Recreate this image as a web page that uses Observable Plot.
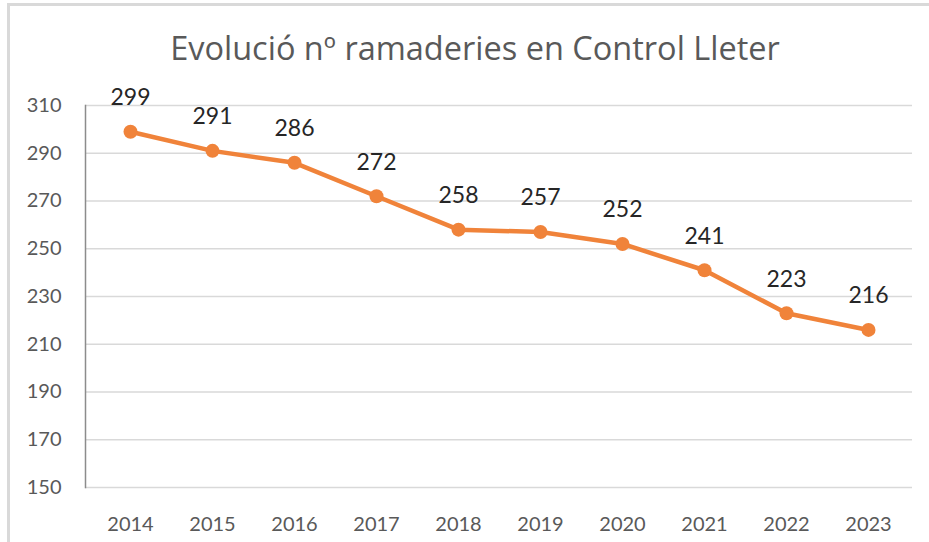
<!DOCTYPE html>
<html>
<head>
<meta charset="utf-8">
<script src="https://cdn.jsdelivr.net/npm/d3@7"></script>
<script src="https://cdn.jsdelivr.net/npm/@observablehq/plot@0.6"></script>
<style>
  html, body { margin: 0; padding: 0; background: #fff; }
  #wrap { position: relative; width: 929px; height: 542px; overflow: hidden; font-family: Lato, "Open Sans", sans-serif; }
  #border { position: absolute; left: 7px; top: 3px; width: 1000px; height: 600px; border-top: 3px solid #d9d9d9; border-left: 3px solid #d9d9d9; box-sizing: border-box; }
  #title { position: relative; height: 80px; line-height: 1; padding-top: 32px; box-sizing: border-box; text-align: center; width: 950px; font-family: "Open Sans", sans-serif; font-size: 32.5px; color: #595959; }
  #chart { position: relative; }
</style>
</head>
<body>
<div id="wrap">
  <div id="border"></div>
  <div id="title">Evolució nº ramaderies en Control Lleter</div>
  <div id="chart"></div>
</div>
<script>
const years = ["2014","2015","2016","2017","2018","2019","2020","2021","2022","2023"];
const farms = [299, 291, 286, 272, 258, 257, 252, 241, 223, 216];
const yTicks = [150, 170, 190, 210, 230, 250, 270, 290, 310];

const data = years.map((y, i) => ({year: y, value: farms[i]}));
const orange = "#F0833A";

const chart = Plot.plot({
  width: 929,
  height: 462,
  marginTop: 25,
  marginBottom: 55,
  marginLeft: 85,
  marginRight: 17,
  style: { fontFamily: "Lato, 'Open Sans', sans-serif", background: "transparent", overflow: "visible" },
  x: { type: "point", domain: years, padding: 0.5 },
  y: { domain: [150, 310] },
  marks: [
    Plot.gridY(yTicks, { stroke: "#d9d9d9", strokeOpacity: 1, strokeWidth: 1.5 }),
    Plot.frame({ anchor: "left", stroke: "#8c8c8c", strokeWidth: 1.5 }),
    Plot.axisY(yTicks, { tickSize: 0, tickPadding: 24, fontSize: 20, fill: "#595959", label: null }),
    Plot.axisX({ tickSize: 0, tickPadding: 29, fontSize: 20, fill: "#595959", label: null }),
    Plot.line(data, { x: "year", y: "value", stroke: orange, strokeWidth: 4.5 }),
    Plot.dot(data, { x: "year", y: "value", fill: orange, r: 7 }),
    Plot.text(data, { x: "year", y: "value", text: d => String(d.value), dy: -34, fontSize: 23, fill: "#262626" })
  ]
});
document.getElementById("chart").appendChild(chart);
</script>
</body>
</html>
